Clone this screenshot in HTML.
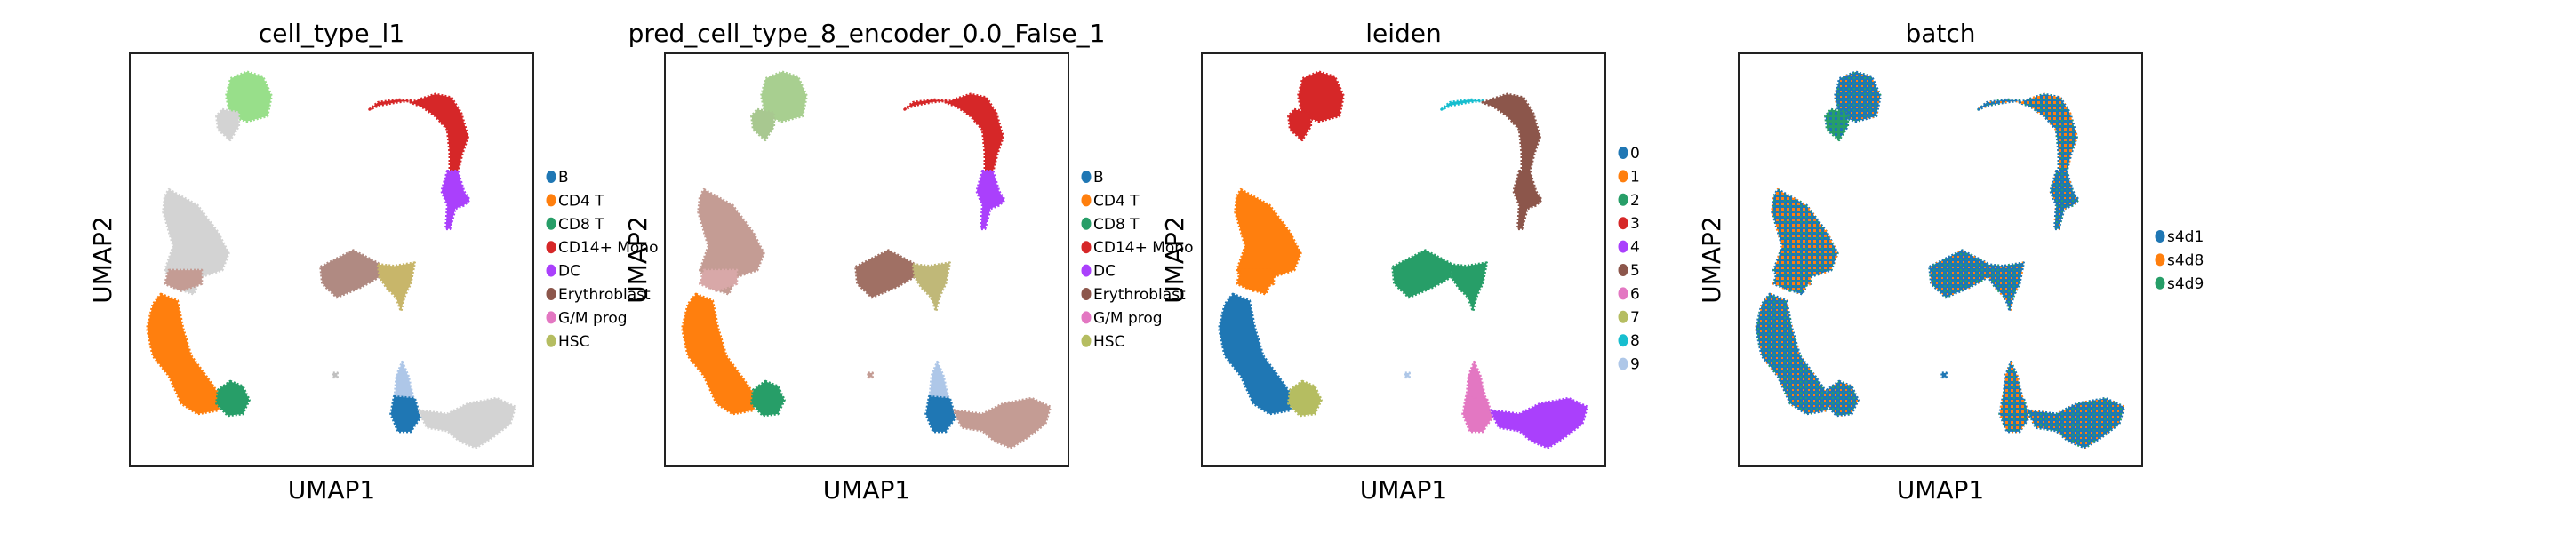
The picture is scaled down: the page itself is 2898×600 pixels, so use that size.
<!DOCTYPE html>
<html><head><meta charset="utf-8">
<style>
body{margin:0;background:#fff;width:2898px;height:600px;overflow:hidden;font-family:"DejaVu Sans","Liberation Sans",sans-serif}
svg{display:block}
</style></head>
<body>
<svg id="fig" width="2898" height="600" xmlns="http://www.w3.org/2000/svg">
<defs>
<pattern id="mixA" width="6" height="6" patternUnits="userSpaceOnUse">
<rect width="6" height="6" fill="#1f77b4"/><rect x="0" y="0" width="2" height="2" fill="#ff7f0e"/><rect x="3" y="3" width="2" height="2" fill="#279e68"/>
</pattern>
<pattern id="mixB" width="6" height="6" patternUnits="userSpaceOnUse">
<rect width="6" height="6" fill="#1f77b4"/><rect x="0" y="0" width="3" height="3" fill="#ff7f0e"/><rect x="3" y="3" width="2" height="2" fill="#279e68"/>
</pattern>
<pattern id="mixG" width="6" height="6" patternUnits="userSpaceOnUse">
<rect width="6" height="6" fill="#279e68"/><rect x="0" y="0" width="3" height="3" fill="#1f77b4"/>
</pattern>
</defs>
</svg>
<script>
// cluster outlines in UMAP coordinates (0-100 scale)
const clusterNames = ["topBlobMain","topBlobLow","arcThin","arcBody","arcTail","leftTop","leftMid","leftBottom","leftGreen","midLeft","midRight","smallDot","brLight","brBlue","brBlob"];
const clusterShapes = [
 [[25,93.9],[29,95.5],[33,94.3],[35.1,89.7],[34.1,84.8],[29,83.5],[25,84.8],[23.9,89.7]],
 [[22.9,86.4],[27,85.6],[27,82.3],[24.9,79],[21.9,81.5],[21.5,84.8]],
 [[59.4,86.4],[61.5,88.1],[66.5,88.8],[69.6,88.5],[66.5,88.2],[61.9,87.4]],
 [[69.6,88.1],[75.7,90.1],[79.7,89.3],[82.1,85.6],[83.8,79.8],[82.4,75.7],[81.3,71.5],[79.3,71.5],[79.3,75.7],[78.7,81.5],[75.7,84.8],[72.6,86.9]],
 [[78.7,71.5],[81.3,71.5],[82.8,66.6],[84.2,64.5],[82.8,63.2],[80.7,62.4],[79.3,57.5],[78.3,57.5],[78.7,63.2],[77.3,66.6]],
 [[9.7,67],[16.8,63.2],[21.9,56.6],[24.5,51.6],[22.9,47.5],[17.8,45.9],[15.8,41.7],[10.8,43.4],[8.7,47.5],[10.8,53.3],[8.3,61.6],[8.7,65.4]],
 [[9.7,47.5],[17.8,47.5],[17.8,44.2],[12.8,42.5],[8.7,44.2]],
 [[7.7,41.7],[11.8,40.1],[13.2,33.4],[15.2,26.8],[18.9,21.9],[21.9,17.7],[21.9,13.6],[16.8,12.7],[12.8,15.2],[9.7,21.9],[5.7,26.8],[4.3,33.4],[5.7,39.2]],
 [[24.9,20.6],[28,19.4],[29.6,16.1],[28,12.7],[24.3,12.3],[21.5,15.2],[21.9,18.5]],
 [[47.3,48.3],[52.3,50.8],[55.4,52.3],[58.4,50.8],[61.5,49.2],[61.9,45.9],[57.4,43.4],[51.3,40.9],[47.7,44.2]],
 [[61.5,48.9],[65.5,48.5],[70.6,49.3],[69.6,44.3],[68,40.9],[67.2,37.6],[66,40.9],[63.5,43.4],[61.9,45.9]],
 [[50.4,22.6],[51.4,22.6],[51.4,21.6],[50.4,21.6]],
 [[67.5,25.3],[69,21.9],[70.6,15.2],[65.5,15.2],[66.1,21.9]],
 [[65.5,16.9],[70.6,16.5],[72,11.9],[69.6,8.4],[66.5,8.4],[64.7,12.7]],
 [[71.6,13.6],[78.7,12.7],[83.8,15.2],[90.9,16.5],[95.5,14.4],[94.3,10.3],[89.9,7],[85.8,4.5],[81.7,6.1],[78.7,8.6],[73.6,9.4]]
];
const colorsCellType = ["#98df8a","#d3d3d3","#d62728","#d62728","#aa40fc","#d3d3d3","#c49c94","#ff7f0e","#279e68","#b08a82","#c8b66a","#c0c0c0","#aec7e8","#1f77b4","#d3d3d3"];
const colorsPred = ["#a8cf90","#a8c890","#d62728","#d62728","#aa40fc","#c49c94","#d8a8a8","#ff7f0e","#279e68","#a07064","#c0b878","#c49c94","#aec7e8","#1f77b4","#c49c94"];
const colorsLeiden = ["#d62728","#d62728","#17becf","#8c564b","#8c564b","#ff7f0e","#ff7f0e","#1f77b4","#b5bd61","#279e68","#279e68","#aec7e8","#e377c2","#e377c2","#aa40fc"];
const colorsBatch = ["url(#mixA)","url(#mixG)","url(#mixA)","url(#mixB)","url(#mixA)","url(#mixB)","url(#mixB)","url(#mixA)","url(#mixA)","url(#mixA)","url(#mixA)","#1f77b4","url(#mixB)","url(#mixB)","url(#mixA)"];

const panelTitles = ["cell_type_l1","pred_cell_type_8_encoder_0.0_False_1","leiden","batch"];
const legendCellType = ["B","CD4 T","CD8 T","CD14+ Mono","DC","Erythroblast","G/M prog","HSC"];
const legendCellColors = ["#1f77b4","#ff7f0e","#279e68","#d62728","#aa40fc","#8c564b","#e377c2","#b5bd61"];
const legendLeiden = ["0","1","2","3","4","5","6","7","8","9"];
const legendLeidenColors = ["#1f77b4","#ff7f0e","#279e68","#d62728","#aa40fc","#8c564b","#e377c2","#b5bd61","#17becf","#aec7e8"];
const legendBatch = ["s4d1","s4d8","s4d9"];
const legendBatchColors = ["#1f77b4","#ff7f0e","#279e68"];

const NS="http://www.w3.org/2000/svg";
const svg=document.getElementById('fig');
const panelX=[146,748,1352,1956], PW=454, PY=60, PH=465;
const panelColors=[colorsCellType,colorsPred,colorsLeiden,colorsBatch];
const panelLegends=[[legendCellType,legendCellColors,199],[legendCellType,legendCellColors,199],[legendLeiden,legendLeidenColors,172],[legendBatch,legendBatchColors,266]];
function mk(tag,attrs){const e=document.createElementNS(NS,tag);for(const k in attrs)e.setAttribute(k,attrs[k]);return e;}

panelTitles.forEach((title,p)=>{
  const x0=panelX[p];
  const sx=u=>x0+u/100*PW, sy=v=>PY+PH-v/100*PH;
  const g=mk('g',{});
  
  
  svg.appendChild(g);
  clusterShapes.forEach((shape,i)=>{
    const pts=shape.map(q=>sx(q[0]).toFixed(1)+','+sy(q[1]).toFixed(1)).join(' ');
    const poly=mk('polygon',{points:pts,fill:panelColors[p][i],stroke:panelColors[p][i],'stroke-width':3,'stroke-linejoin':'round','stroke-dasharray':'2 2'});
    
    
    g.appendChild(poly);
  });
  const frame=mk('rect',{x:x0,y:PY,width:PW,height:PH,fill:'none',stroke:'#222','stroke-width':2});
  
  
  g.appendChild(frame);
  const t=mk('text',{x:x0+PW/2,y:47,'text-anchor':'middle','font-size':28,fill:'#000'});
  t.textContent=title;
  
  
  g.appendChild(t);
  const xl=mk('text',{x:x0+PW/2,y:561,'text-anchor':'middle','font-size':28,fill:'#000'});
  xl.textContent='UMAP1';
  
  
  g.appendChild(xl);
  const yl=mk('text',{x:0,y:0,'text-anchor':'middle','font-size':28,fill:'#000',transform:`translate(${x0-21},${PY+PH/2}) rotate(-90)`});
  yl.textContent='UMAP2';
  
  
  g.appendChild(yl);
  const [labels,cols,y0]=panelLegends[p];
  labels.forEach((lab,j)=>{
    const y=y0+j*26.4;
    const c=mk('ellipse',{cx:x0+PW+20,cy:y,rx:5.5,ry:7,fill:cols[j]});
    
    
    g.appendChild(c);
    const lt=mk('text',{x:x0+PW+28,y:y+6,'font-size':17,fill:'#000'});
    lt.textContent=lab;
    
    
    g.appendChild(lt);
  });
});
</script>
</body></html>
